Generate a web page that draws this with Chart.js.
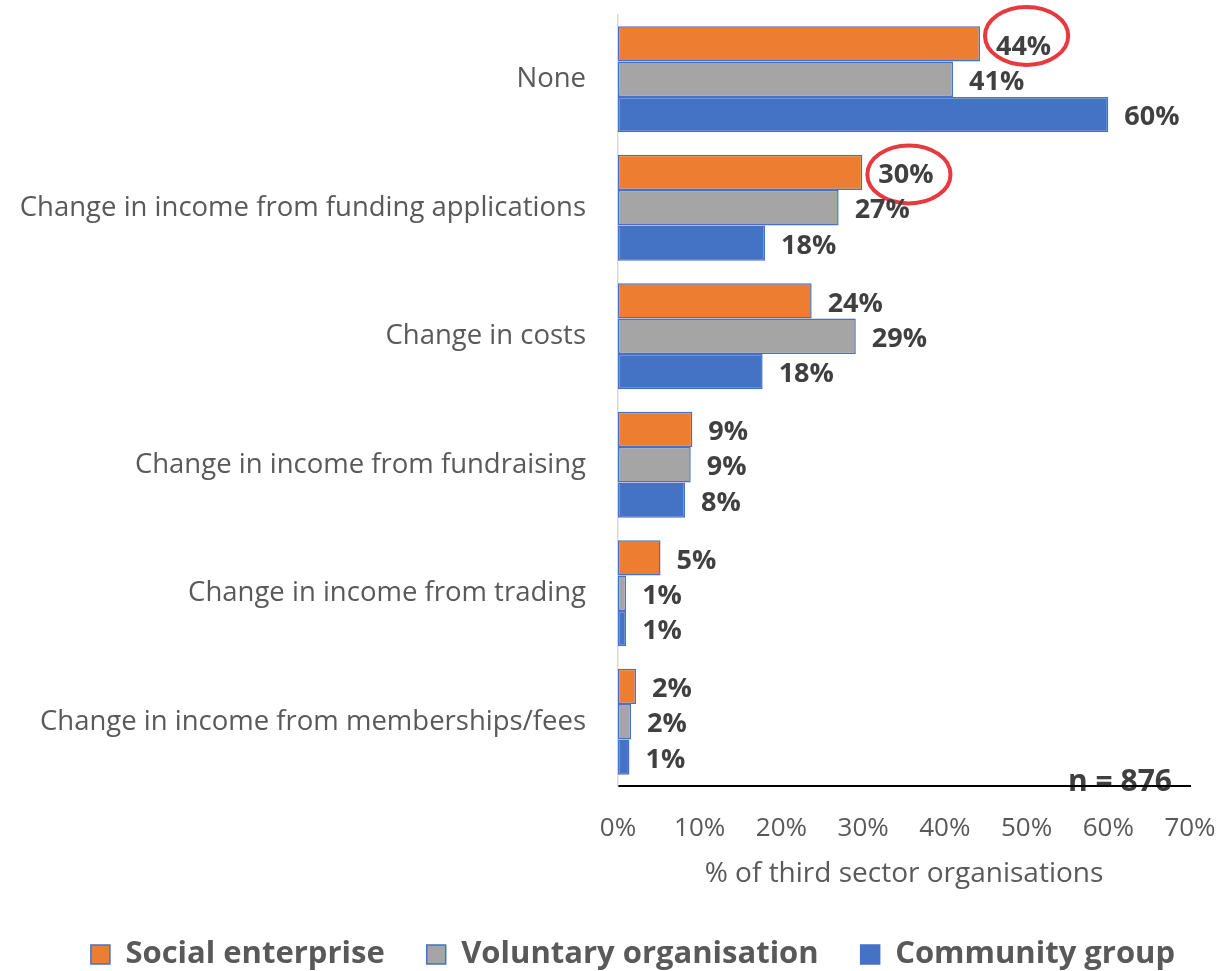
<!DOCTYPE html>
<html>
<head>
<meta charset="utf-8">
<script src="https://cdn.jsdelivr.net/npm/chart.js@4/dist/chart.umd.min.js"></script>
<style>
  html, body { margin: 0; padding: 0; background: #fff; }
  #wrap { width: 1224px; height: 971px; position: relative; }
</style>
</head>
<body>
<div id="wrap"><canvas id="barChart"></canvas></div>
<script>
const categories = [
    'None',
    'Change in income from funding applications',
    'Change in costs',
    'Change in income from fundraising',
    'Change in income from trading',
    'Change in income from memberships/fees'
];
const socialEnterprise = [44.3, 29.9, 23.7, 9.1, 5.2, 2.2];
const voluntaryOrganisation = [41, 27, 29.1, 8.9, 1.0, 1.6];
const communityGroup = [60, 18, 17.7, 8.2, 1.0, 1.4];
const xTicks = [0, 10, 20, 30, 40, 50, 60, 70];
// labels circled in red: dataset index, category index, vertical nudge of the circle
const circled = [
    { ds: 0, idx: 0, dy: -8 },
    { ds: 0, idx: 1, dy: 2 }
];

const FONT = "'Open Sans', sans-serif";
const TEXT_GREY = '#595959';

const valueLabels = {
    id: 'valueLabels',
    afterDatasetsDraw(chart) {
        const ctx = chart.ctx;
        ctx.save();
        ctx.font = 'bold 27px ' + FONT;
        ctx.fillStyle = '#404040';
        ctx.textBaseline = 'middle';
        ctx.textAlign = 'left';
        chart.data.datasets.forEach((ds, di) => {
            const meta = chart.getDatasetMeta(di);
            meta.data.forEach((bar, i) => {
                const text = Math.round(ds.data[i]) + '%';
                const x = bar.x + 16;
                ctx.fillText(text, x, bar.y + 3);
                const c = circled.find(c => c.ds === di && c.idx === i);
                if (c) {
                    const w = ctx.measureText(text).width;
                    ctx.save();
                    ctx.strokeStyle = '#E8393F';
                    ctx.lineWidth = 4;
                    ctx.beginPath();
                    ctx.ellipse(x + w / 2 + 3, bar.y + c.dy, w / 2 + 14, 29, 0, 0, Math.PI * 2);
                    ctx.stroke();
                    ctx.restore();
                }
            });
        });
        ctx.restore();
    }
};

const sampleNote = {
    id: 'sampleNote',
    beforeDraw(chart) {
        const ctx = chart.ctx;
        const area = chart.chartArea;
        ctx.save();
        ctx.font = 'bold 30px ' + FONT;
        ctx.fillStyle = '#404040';
        ctx.textAlign = 'right';
        ctx.textBaseline = 'alphabetic';
        ctx.fillText('n = 876', area.right - 18, area.bottom + 5);
        ctx.restore();
    }
};

// the legend in the original sits a bit right of centre
const legendShift = {
    id: 'legendShift',
    afterLayout(chart) {
        if (chart.legend) {
            chart.legend.left += 38;
            chart.legend.right += 38;
        }
    }
};

function makeDataset(label, data, colour) {
    return {
        label: label,
        data: data,
        backgroundColor: colour,
        borderColor: '#4472C4',
        borderWidth: 1.5,
        borderSkipped: false,
        categoryPercentage: 0.825,
        barPercentage: 1.0
    };
}

new Chart(document.getElementById('barChart'), {
    type: 'bar',
    data: {
        labels: categories,
        datasets: [
            makeDataset('Social enterprise', socialEnterprise, '#ED7D31'),
            makeDataset('Voluntary organisation', voluntaryOrganisation, '#A5A5A5'),
            makeDataset('Community group', communityGroup, '#4472C4')
        ]
    },
    options: {
        indexAxis: 'y',
        responsive: true,
        maintainAspectRatio: false,
        animation: false,
        layout: { padding: { top: 15, right: 34, bottom: -9, left: 0 } },
        scales: {
            x: {
                min: xTicks[0],
                max: xTicks[xTicks.length - 1],
                afterBuildTicks: (scale) => { scale.ticks = xTicks.map(v => ({ value: v })); },
                grid: { display: false, drawTicks: false },
                border: { display: true, color: '#000000', width: 2 },
                ticks: {
                    color: TEXT_GREY,
                    font: { family: FONT, size: 26 },
                    padding: 27,
                    maxRotation: 0,
                    callback: (v) => v + '%'
                },
                title: {
                    display: true,
                    text: '% of third sector organisations',
                    color: TEXT_GREY,
                    font: { family: FONT, size: 28 },
                    padding: { top: 0, bottom: 6 }
                },
                afterFit: (scale) => {
                    scale.height = 111;
                    scale.paddingLeft = 0;
                    scale.paddingRight = 0;
                }
            },
            y: {
                grid: { display: false, drawTicks: false },
                border: { display: true, color: '#D9D9D9', width: 1.5 },
                ticks: {
                    color: TEXT_GREY,
                    font: { family: FONT, size: 27.5 },
                    padding: 32
                },
                afterFit: (scale) => {
                    scale.width = 618;
                    scale.paddingTop = 0;
                    scale.paddingBottom = 0;
                }
            }
        },
        plugins: {
            legend: {
                position: 'bottom',
                labels: {
                    color: TEXT_GREY,
                    font: { family: FONT, size: 31, weight: 'bold' },
                    boxWidth: 19,
                    boxHeight: 19,
                    padding: 42
                }
            },
            tooltip: { enabled: false }
        }
    },
    plugins: [valueLabels, sampleNote, legendShift]
});
</script>
</body>
</html>
